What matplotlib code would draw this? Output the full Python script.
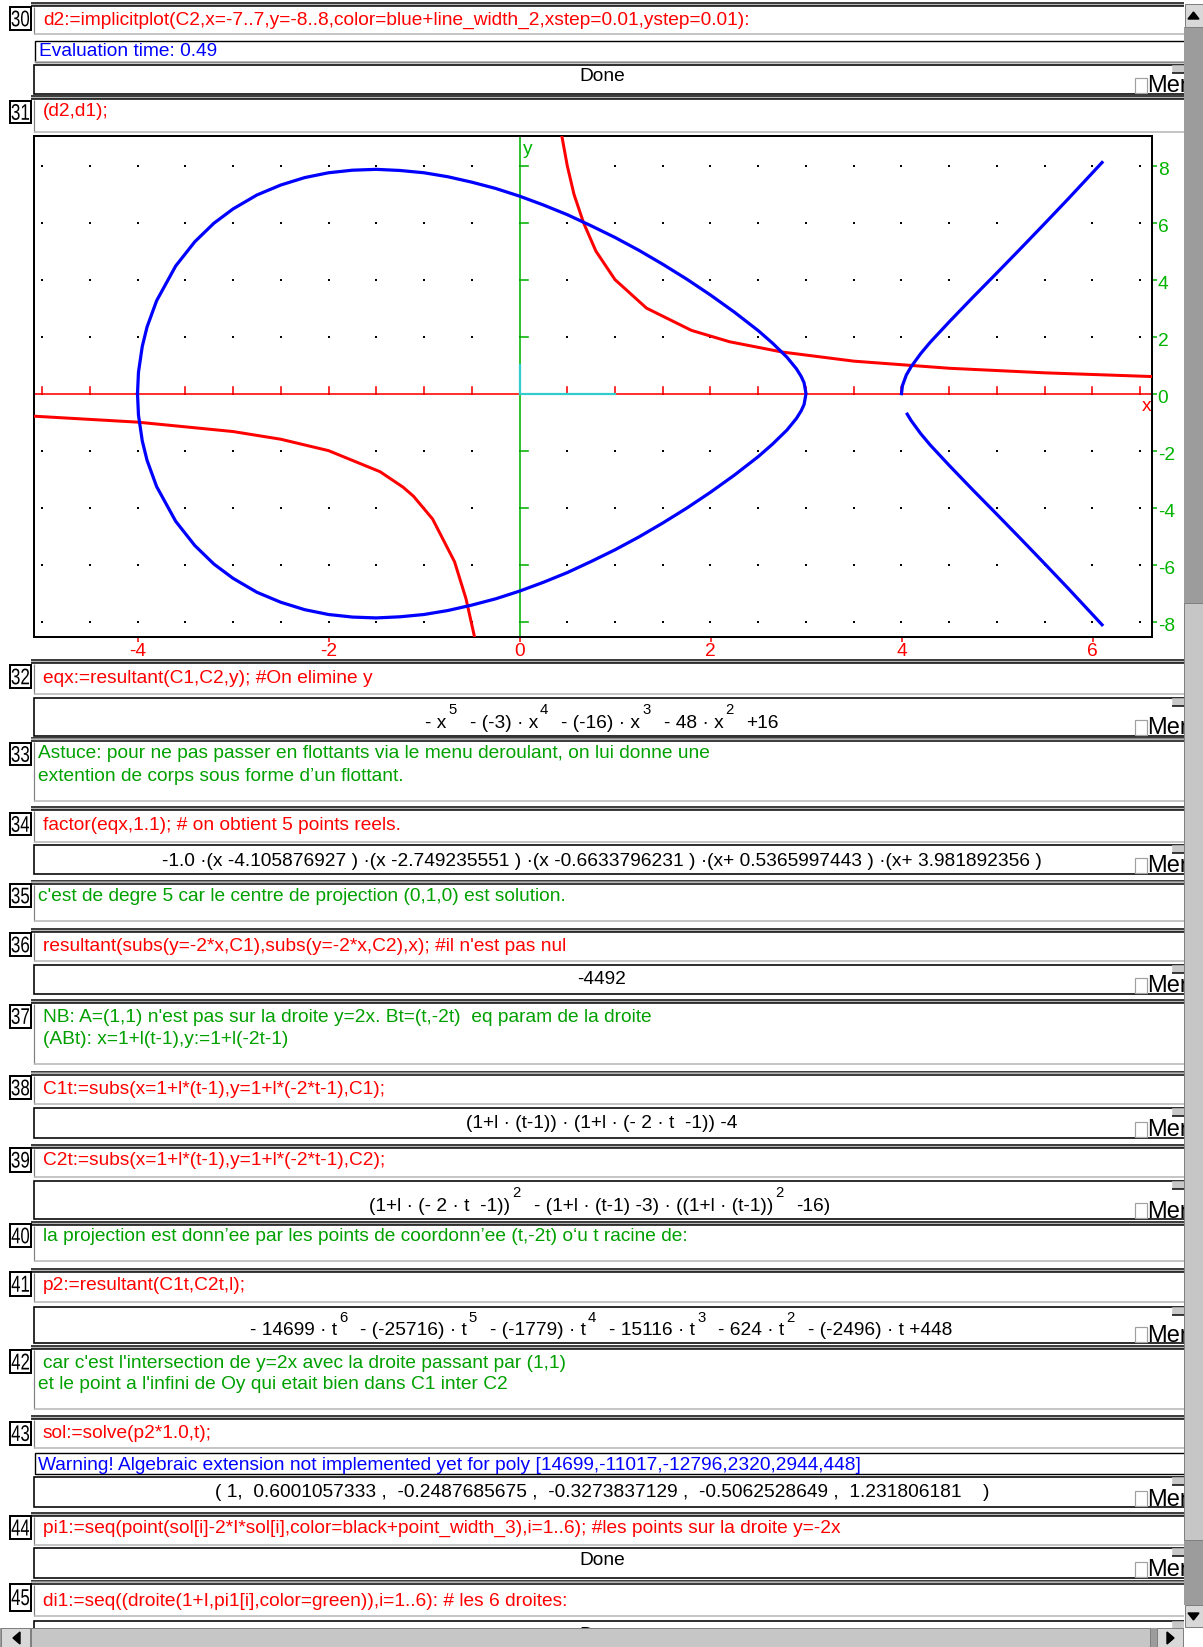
import matplotlib
matplotlib.use("Agg")
import matplotlib.pyplot as plt
from matplotlib.textpath import TextPath
from matplotlib.patches import PathPatch
from matplotlib.font_manager import FontProperties
from matplotlib.transforms import Affine2D
import numpy as np

plt.rcParams['font.family'] = ['Liberation Sans', 'DejaVu Sans']

# blue curve C2 (oval part)
oval_x = [-4.0, -3.99, -3.95, -3.9, -3.8, -3.6, -3.4, -3.2, -3.0, -2.75, -2.5, -2.25, -2.0,
          -1.75, -1.5, -1.25, -1.0, -0.75, -0.5, -0.25, 0.0, 0.25, 0.5, 0.75, 1.0, 1.25,
          1.5, 1.75, 2.0, 2.25, 2.5, 2.65, 2.8, 2.9, 2.95, 2.98, 3.0,
          2.98, 2.95, 2.9, 2.8, 2.65, 2.5, 2.25, 2.0, 1.75, 1.5, 1.25, 1.0, 0.75, 0.5,
          0.25, 0.0, -0.25, -0.5, -0.75, -1.0, -1.25, -1.5, -1.75, -2.0, -2.25, -2.5,
          -2.75, -3.0, -3.2, -3.4, -3.6, -3.8, -3.9, -3.95, -3.99, -4.0]
oval_y = [0.0, 0.75, 1.66, 2.34, 3.26, 4.48, 5.33, 5.98, 6.48, 6.97, 7.32, 7.58, 7.75,
          7.84, 7.87, 7.83, 7.75, 7.61, 7.42, 7.20, 6.93, 6.62, 6.28, 5.89, 5.48, 5.03,
          4.54, 4.02, 3.46, 2.86, 2.21, 1.77, 1.28, 0.87, 0.60, 0.38, 0.0,
          -0.38, -0.60, -0.87, -1.28, -1.77, -2.21, -2.86, -3.46, -4.02, -4.54, -5.03,
          -5.48, -5.89, -6.28, -6.62, -6.93, -7.20, -7.42, -7.61, -7.75, -7.83, -7.87,
          -7.84, -7.75, -7.58, -7.32, -6.97, -6.48, -5.98, -5.33, -4.48, -3.26, -2.34,
          -1.66, -0.75, 0.0]
# blue curve C2, right branch
br_up_x = [4.0, 4.01, 4.05, 4.1, 4.2, 4.3, 4.5, 4.75, 5.0, 5.25, 5.5, 5.75, 6.0, 6.1]
br_up_y = [0.0, 0.28, 0.65, 0.94, 1.40, 1.80, 2.52, 3.39, 4.24, 5.10, 5.97, 6.85, 7.75, 8.11]
br_lo_x = [4.06, 4.1, 4.2, 4.3, 4.5, 4.75, 5.0, 5.25, 5.5, 5.75, 6.0, 6.1]
br_lo_y = [-0.72, -0.94, -1.40, -1.80, -2.52, -3.39, -4.24, -5.10, -5.97, -6.85, -7.75, -8.11]
# red curve C1
red_up_x = [0.44, 0.5, 0.57, 0.67, 0.8, 1.0, 1.33, 1.8, 2.2, 2.75, 3.5, 4.5, 5.5, 6.62]
red_up_y = [9.1, 8.0, 7.0, 6.0, 5.0, 4.0, 3.0, 2.22, 1.82, 1.46, 1.14, 0.89, 0.73, 0.60]
red_lo_x = [-5.09, -4.0, -3.0, -2.5, -2.0, -1.46, -1.22, -1.11, -0.91, -0.68, -0.56, -0.46]
red_lo_y = [-0.79, -1.0, -1.33, -1.6, -2.0, -2.74, -3.28, -3.6, -4.4, -5.9, -7.2, -8.7]

xtick_vals = [-4, -2, 0, 2, 4, 6]
ytick_vals = [8, 6, 4, 2, 0, -2, -4, -6, -8]

RED = '#ff0000'
GRN = '#00a000'
BLU = '#0000ff'
FS = 13.8
W, H = 1203, 1647

fig = plt.figure(figsize=(W / 100, H / 100), dpi=100)
bg = fig.add_axes([0, 0, 1, 1])
bg.set_xlim(0, W)
bg.set_ylim(H, 0)
bg.axis('off')
R = fig.canvas.get_renderer()
FP = FontProperties(family='Liberation Sans')


def lw(p):
    return p * 0.72


def hl(y, x0, x1, c='black', w=1.5, z=2):
    bg.plot([x0, x1], [y, y], color=c, lw=lw(w), zorder=z, solid_capstyle='butt')


def vl(x, y0, y1, c='black', w=1.5, z=2):
    bg.plot([x, x], [y0, y1], color=c, lw=lw(w), zorder=z, solid_capstyle='butt')


def box(x0, y0, x1, y1, ec='black', fc='white', w=1.5, z=2):
    bg.add_patch(plt.Rectangle((x0, y0), x1 - x0, y1 - y0, ec=ec, fc=fc, lw=lw(w), zorder=z))


def narrow_num(s, xc, ybase, height=16.0, width=17.5):
    tp = TextPath((0, 0), s, size=22, prop=FP)
    ext = tp.get_extents()
    sx = width / ext.width
    sy = height / ext.height
    tr = Affine2D().translate(-ext.x0 - ext.width / 2, -ext.y0).scale(sx, -sy).translate(xc, ybase)
    bg.add_patch(PathPatch(tr.transform_path(tp), fc='black', ec='none', zorder=3))


def entry(n, sep, ltop, lbot, gray):
    hl(sep, 31, 1184, 'black', 1.5)
    hl(sep + 1.6, 31, 1184, '#a0a0a0', 1.5)
    hl(sep + 3.2, 31, 1184, 'black', 1.5)
    vl(34, sep + 4, gray, '#808080', 1.2)
    hl(gray, 34, 1184, '#b4b4b4', 1.5)
    box(9.5, ltop, 31, lbot, w=2)
    mid = (ltop + lbot) / 2
    narrow_num(str(n), 20.3, mid + 8)


def cmd(c, s, x=43, col=RED):
    bg.text(x, c + 6, s, color=col, fontsize=FS, va='baseline', zorder=3)


def outbox(top, bot):
    box(34, top, 1190, bot, w=1.6)
    # Mer checkbox and small handle
    box(1135, bot - 16, 1147, bot - 1, ec='#a0a0a0', fc='white', w=1.2, z=3)
    bg.text(1147.5, bot - 1.5, 'Mer', fontsize=17, va='baseline', zorder=3)
    box(1172, top, 1185, top + 7, ec='#c8c8c8', fc='#c8c8c8', w=0.5, z=3)
    hl(top + 8, 1172, 1185, 'black', 1.5, z=3)


def rich(parts, xc, c, csup, size=FS):
    arts = []
    for s, sup in parts:
        t = bg.text(0, 0, s, fontsize=size * 0.78 if sup else size, va='baseline', zorder=3)
        arts.append((t, t.get_window_extent(R).width, sup))
    gaps = []
    for i, (t, w, sup) in enumerate(arts):
        if i == len(arts) - 1:
            gaps.append(0)
        elif sup:
            gaps.append(13)
        else:
            gaps.append(2)
    total = sum(a[1] for a in arts) + sum(gaps)
    x = xc - total / 2
    for (t, w, sup), g in zip(arts, gaps):
        t.set_position((x, (csup + 5) if sup else (c + 6)))
        x += w + g


def center(c, s, col='black'):
    bg.text(602, c + 6, s, ha='center', va='baseline', fontsize=FS, color=col, zorder=3)


# ---- row 30
entry(30, 3, 7, 30, 34)
cmd(18.5, 'd2:=implicitplot(C2,x=-7..7,y=-8..8,color=blue+line_width_2,xstep=0.01,ystep=0.01):')
box(35, 40.5, 1190, 61.5, w=1.4)
hl(61.5, 35, 1184, '#b4b4b4', 1.5)
cmd(50, 'Evaluation time: 0.49', x=39, col=BLU)
outbox(65, 94)
center(75, 'Done')

# ---- row 31 + plot
entry(31, 96, 101, 123, 131.5)
cmd(110.5, '(d2,d1);')

fl, fr, ft, fb = 33.7, 1151.7, 136.0, 637.3
xmin, xmax, ymin, ymax = -5.087, 6.62, -8.55, 9.04
ax = fig.add_axes([fl / W, 1 - fb / H, (fr - fl) / W, (fb - ft) / H])
ax.set_xlim(xmin, xmax)
ax.set_ylim(ymin, ymax)
ax.set_xticks([])
ax.set_yticks([])
for sp in ax.spines.values():
    sp.set_linewidth(lw(2))
    sp.set_color('black')
gx, gy = np.meshgrid(np.arange(-5, 6.6, 0.5), np.arange(-8, 8.1, 2))
ax.scatter(gx.ravel(), gy.ravel(), s=2.4, marker='s', color='black', lw=0, zorder=1)
ax.axhline(0, color=RED, lw=lw(1.6), zorder=2)
ax.axvline(0, color='#00b400', lw=lw(1.6), zorder=2)
for xv in np.arange(-5, 6.6, 0.5):
    ax.plot([xv, xv], [0, 0.25], color=RED, lw=lw(1.6), zorder=2)
for yv in ytick_vals:
    ax.plot([0, 0.085], [yv, yv], color='#00b400', lw=lw(1.6), zorder=2)
ax.plot([0, 1], [0, 0], color='#33cccc', lw=lw(2.2), zorder=3)
ax.plot([0, 0], [0, 1], color='#33cccc', lw=lw(2.2), zorder=3)
ax.plot(red_up_x, red_up_y, color=RED, lw=lw(3), zorder=4)
ax.plot(red_lo_x, red_lo_y, color=RED, lw=lw(3), zorder=4)
for xs, ys in [(oval_x, oval_y), (br_up_x, br_up_y), (br_lo_x, br_lo_y)]:
    ax.plot(xs, ys, color=BLU, lw=lw(3.2), zorder=5)
ax.text(6.57, -0.46, 'x', color=RED, fontsize=FS, ha='center', va='center')
ax.text(0.04, 8.55, 'y', color='#00b400', fontsize=FS, ha='left', va='center')

for xv in xtick_vals:
    xp = 519.5 + 95.5 * xv
    vl(xp, fb, fb + 5, RED, 1.5)
    bg.text(xp, fb + 18.5, str(xv), color=RED, fontsize=FS, ha='center', va='baseline')
for yv in ytick_vals:
    yp = 393.7 - 28.5 * yv
    hl(yp, fr, fr + 5, '#00b400', 1.5)
    bg.text(fr + 6, yp + 9, str(yv), color='#00b400', fontsize=FS, ha='left', va='baseline')

# ---- row 32
entry(32, 660, 665, 688, 694)
cmd(677, 'eqx:=resultant(C1,C2,y); #On elimine y')
outbox(697.7, 735.5)
rich([('- x', 0), ('5', 1), ('- (-3) · x', 0), ('4', 1), ('- (-16) · x', 0), ('3', 1),
      ('- 48 · x', 0), ('2', 1), ('+16', 0)], 602, 721.5, 709)

# ---- row 33
entry(33, 737.6, 743, 765, 800.6)
cmd(752, 'Astuce: pour ne pas passer en flottants via le menu deroulant, on lui donne une', x=38, col=GRN)
cmd(775, 'extention de corps sous forme d\u2019un flottant.', x=38, col=GRN)

# ---- row 34
entry(34, 807, 813, 835, 841.6)
cmd(824, 'factor(eqx,1.1); # on obtient 5 points reels.')
outbox(845, 874)
center(859.5, '-1.0 ·(x -4.105876927 ) ·(x -2.749235551 ) ·(x -0.6633796231 ) ·(x+ 0.5365997443 ) ·(x+ 3.981892356 )')

# ---- row 35
entry(35, 880.5, 884, 907, 921)
cmd(895, 'c\'est de degre 5 car le centre de projection (0,1,0) est solution.', x=38, col=GRN)

# ---- row 36
entry(36, 929, 933, 956, 961)
cmd(944.6, 'resultant(subs(y=-2*x,C1),subs(y=-2*x,C2),x); #il n\'est pas nul')
outbox(964.5, 994)
center(978, '-4492')

# ---- row 37
entry(37, 1000, 1004.5, 1027.6, 1064)
cmd(1016, 'NB: A=(1,1) n\'est pas sur la droite y=2x. Bt=(t,-2t)  eq param de la droite', col=GRN)
cmd(1038, '(ABt): x=1+l(t-1),y:=1+l(-2t-1)', col=GRN)

# ---- row 38
entry(38, 1071.7, 1076, 1099, 1104)
cmd(1087.5, 'C1t:=subs(x=1+l*(t-1),y=1+l*(-2*t-1),C1);')
outbox(1107.5, 1138)
center(1122, '(1+l · (t-1)) · (1+l · (- 2 · t  -1)) -4')

# ---- row 39
entry(39, 1145, 1148, 1171.5, 1177)
cmd(1159, 'C2t:=subs(x=1+l*(t-1),y=1+l*(-2*t-1),C2);')
outbox(1181, 1219)
rich([('(1+l · (- 2 · t  -1))', 0), ('2', 1), ('- (1+l · (t-1) -3) · ((1+l · (t-1))', 0), ('2', 1),
      ('-16)', 0)], 600, 1205, 1192)

# ---- row 40
entry(40, 1222, 1224, 1247, 1261)
cmd(1234.6, 'la projection est donn\u2019ee par les points de coordonn\u2019ee (t,-2t) o\u2018u t racine de:', col=GRN)

# ---- row 41
entry(41, 1269, 1272, 1295.5, 1302)
cmd(1284, 'p2:=resultant(C1t,C2t,l);')
outbox(1307, 1343)
rich([('- 14699 · t', 0), ('6', 1), ('- (-25716) · t', 0), ('5', 1), ('- (-1779) · t', 0), ('4', 1),
      ('- 15116 · t', 0), ('3', 1), ('- 624 · t', 0), ('2', 1), ('- (-2496) · t +448', 0)],
     601, 1329, 1316.5)

# ---- row 42
entry(42, 1346, 1350, 1373, 1409)
cmd(1361.7, 'car c\'est l\'intersection de y=2x avec la droite passant par (1,1)', col=GRN)
cmd(1382.7, 'et le point a l\'infini de Oy qui etait bien dans C1 inter C2', x=38, col=GRN)

# ---- row 43
entry(43, 1416, 1421.6, 1444.7, 1448)
cmd(1432, 'sol:=solve(p2*1.0,t);')
box(35, 1452.5, 1190, 1474, w=1.4)
cmd(1463.6, 'Warning! Algebraic extension not implemented yet for poly [14699,-11017,-12796,2320,2944,448]',
    x=38, col=BLU)
outbox(1477, 1507)
center(1491, '( 1,  0.6001057333 ,  -0.2487685675 ,  -0.3273837129 ,  -0.5062528649 ,  1.231806181    )')

# ---- row 44
entry(44, 1513, 1516, 1539, 1544.5)
cmd(1526.6, 'pi1:=seq(point(sol[i]-2*I*sol[i],color=black+point_width_3),i=1..6); #les points sur la droite y=-2x')
outbox(1547.6, 1578)
center(1559, 'Done')

# ---- row 45
entry(45, 1580.5, 1584, 1610.5, 1616)
cmd(1600, 'di1:=seq((droite(1+I,pi1[i],color=green)),i=1..6): # les 6 droites:')
box(34, 1621, 1190, 1660, w=1.6)
center(1634, 'Done')
box(1172, 1621, 1185, 1628, ec='#c8c8c8', fc='#c8c8c8', w=0.5, z=3)

# ---- scrollbars
box(1184, 0, 1203, 1647, ec='none', fc='white', w=0, z=10)
box(1184, 27, 1203, 1605, ec='none', fc='#9c9c9c', w=0, z=10)
box(1184, 603, 1203, 1540, ec='#808080', fc='#c6c6c6', w=1, z=10)
box(1184.5, 4, 1202.5, 27, ec='#808080', fc='#d8d8d8', w=1, z=10)
box(1184.5, 1605, 1202.5, 1627, ec='#808080', fc='#d8d8d8', w=1, z=10)
bg.add_patch(plt.Polygon([[1188, 19], [1199, 19], [1193.5, 12]], color='black', zorder=11))
bg.add_patch(plt.Polygon([[1188, 1613], [1199, 1613], [1193.5, 1620]], color='black', zorder=11))

box(0, 1628, 1183, 1647, ec='none', fc='#9c9c9c', w=0, z=10)
box(30.5, 1628, 1150, 1647, ec='#808080', fc='#c6c6c6', w=1, z=10)
box(0.5, 1628, 30, 1647, ec='#808080', fc='#d8d8d8', w=1, z=10)
box(1157, 1628, 1183, 1647, ec='#808080', fc='#d8d8d8', w=1, z=10)
bg.add_patch(plt.Polygon([[20, 1632], [20, 1644], [13, 1638]], color='black', zorder=11))
bg.add_patch(plt.Polygon([[1167, 1632], [1167, 1644], [1174, 1638]], color='black', zorder=11))

fig.savefig('out.png', dpi=100)
